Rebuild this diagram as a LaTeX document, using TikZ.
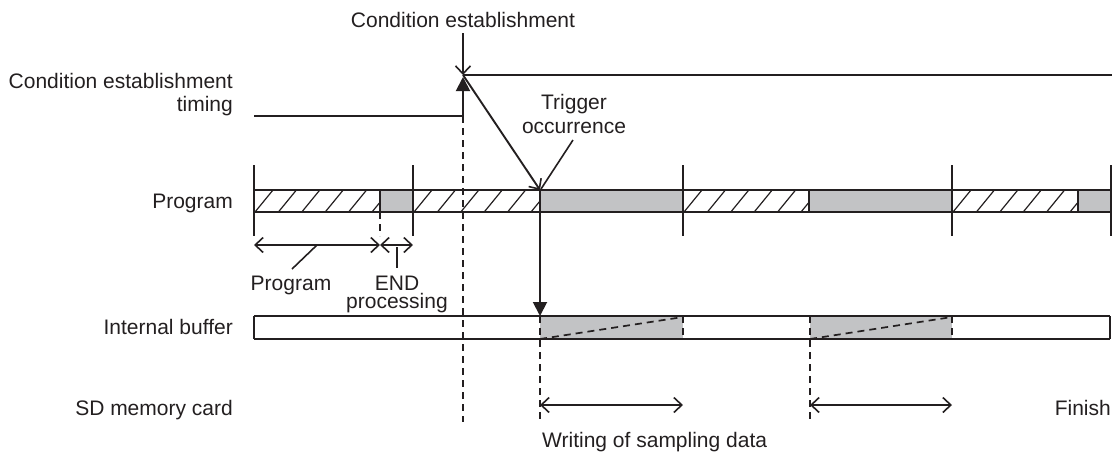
\documentclass[tikz,border=0pt]{standalone}
\usepackage{fontspec}
\setmainfont{Liberation Sans}
\usetikzlibrary{arrows.meta}
\definecolor{fillgray}{RGB}{194,195,197}
\definecolor{ink}{RGB}{35,31,32}
\newcommand\hatchseg[2]{%
  \begin{scope}
    \clip (#1,190) rectangle (#2,212);
    \foreach \k in {-1,...,7} \draw[line width=1.2pt,draw=ink] ({#1+1+\k*23.4},212) -- ({#1+19+\k*23.4},190);
  \end{scope}}
\begin{document}
\begin{tikzpicture}[x=1pt,y=-1pt,
  every node/.style={font=\fontsize{21}{23}\selectfont, text=ink, inner sep=0pt},
  ln/.style={line width=1.9pt, draw=ink},
  thin ln/.style={line width=1.6pt, draw=ink},
  dsh/.style={line width=1.7pt, draw=ink, dash pattern=on 7pt off 5pt},
  barb/.style={-{Straight Barb[length=8pt,width=15pt,line width=1.6pt]}},
  dbarb/.style={{Straight Barb[length=8pt,width=15pt,line width=1.6pt]}-{Straight Barb[length=8pt,width=15pt,line width=1.6pt]}},
  tri/.style={-{Triangle[length=14pt,width=14pt]}}
]
\useasboundingbox (0,0) rectangle (1112,451);

% key coordinates
\coordinate (ceTop) at (463,33);
\coordinate (ceHigh) at (463,75);
\coordinate (ceLow) at (463,116);
\coordinate (lowStart) at (254,116);
\coordinate (highEnd) at (1112,75);
\coordinate (trig) at (540,190);
\coordinate (trigLow) at (540,212);
\coordinate (bufTop) at (540,316);

% ---------- Program bar ----------
\fill[fillgray] (380,190) rectangle (413,212);
\fill[fillgray] (540,190) rectangle (683,212);
\fill[fillgray] (809,190) rectangle (952,212);
\fill[fillgray] (1078,190) rectangle (1112,212);
\hatchseg{254}{380}
\hatchseg{413}{540}
\hatchseg{683}{809}
\hatchseg{952}{1078}
\draw[ln] (254,190) -- (1112,190);
\draw[ln] (254,212) -- (1112,212);
\foreach \x in {380,540,809,1078} \draw[ln] (\x,190) -- (\x,212);
\foreach \x in {254,413,683,952,1111} \draw[ln] (\x,165) -- (\x,236);
\draw[dsh] (380,212) -- (380,236);

% ---------- Internal buffer ----------
\fill[fillgray] (540,316) rectangle (683,339);
\fill[fillgray] (810,316) rectangle (952,339);
\draw[ln] (254,316) -- (1110,316);
\draw[ln] (254,339) -- (1110,339);
\draw[ln] (254,316) -- (254,339);
\draw[ln] (1110,316) -- (1110,339);
\draw[dsh] (540,339) -- (683,317);
\draw[dsh] (810,339) -- (952,317);
\draw[dsh] (683,316) -- (683,339);
\draw[dsh] (952,316) -- (952,339);

% ---------- dashed verticals ----------
\draw[dsh] (ceLow) -- (463,422);
\draw[dsh] (bufTop) -- (540,422);
\draw[dsh] (810,316) -- (810,422);

% ---------- condition timing ----------
\node[anchor=base] (cetext) at (463,27) {Condition establishment};
\draw[ln,barb] (ceTop) -- (ceHigh);
\draw[ln] (ceHigh) -- (highEnd);
\draw[ln] (lowStart) -- (ceLow);
\draw[ln,tri] (ceLow) -- (463,77);
\draw[ln,barb] (ceHigh) -- (trig);
\draw[ln,tri] (trigLow) -- (bufTop);

\node[anchor=base] (trg1) at (574,109) {Trigger};
\node[anchor=base] (trg2) at (574,133) {occurrence};
\coordinate (trgLead) at (573,140);
\draw[thin ln] (trgLead) -- (541,189);

% ---------- measurement ----------
\coordinate (m0) at (254,245);
\coordinate (m1) at (380,245);
\coordinate (m2) at (413,245);
\draw[ln,dbarb] (m0) -- (m1);
\draw[ln,dbarb] (m1) -- (m2);
\draw[thin ln] (317,245) -- (292,269);
\draw[thin ln] (397,247) -- (397,268);
\node[anchor=base] (lprog) at (291,290) {Program};
\node[anchor=base, align=center, font=\fontsize{21}{18}\selectfont] (lend) at (397,308) {END\\processing};

% ---------- SD card ----------
\draw[ln,dbarb] (540,405) -- (683,405);
\draw[ln,dbarb] (810,405) -- (952,405);
\node[anchor=base east] (fin) at (1111,415) {Finish};
\node[anchor=base west] (wr) at (542,447) {Writing of sampling data};

% ---------- left labels ----------
\node[anchor=base east, align=right] (l1) at (233,111) {Condition establishment\\timing};
\node[anchor=base east] (l3) at (233,208) {Program};
\node[anchor=base east] (l4) at (233,334) {Internal buffer};
\node[anchor=base east] (l5) at (233,415) {SD memory card};
\end{tikzpicture}
\end{document}
